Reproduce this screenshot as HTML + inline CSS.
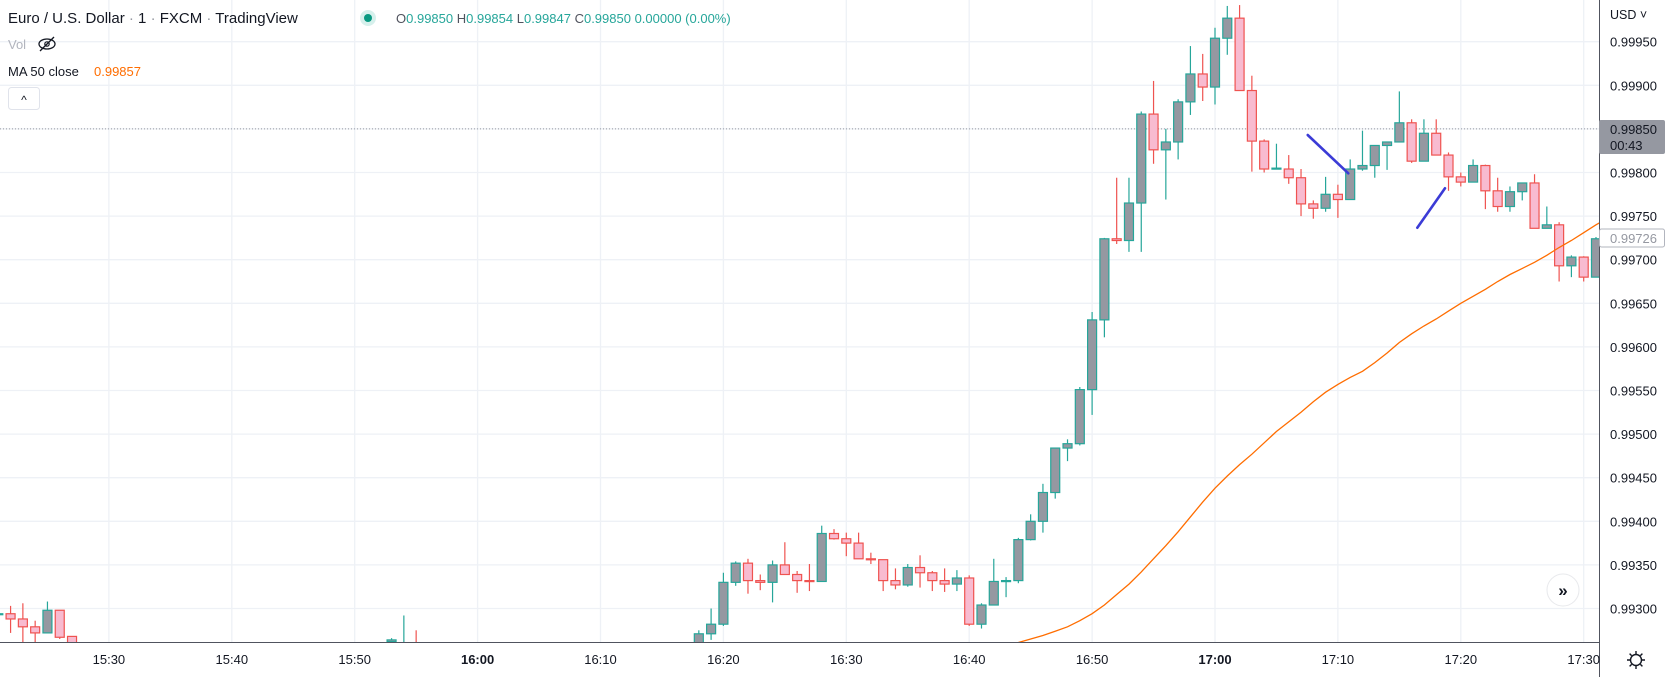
<!DOCTYPE html>
<html><head><meta charset="utf-8"><style>
html,body{margin:0;padding:0;background:#fff;width:1670px;height:677px;overflow:hidden}
svg{display:block;font-family:"Liberation Sans",sans-serif}
</style></head><body>
<svg id="chart" width="1670" height="677" viewBox="0 0 1670 677" xmlns="http://www.w3.org/2000/svg">
<g id="grid"></g>
<line x1="0" y1="128.9" x2="1599" y2="128.9" stroke="#9598a1" stroke-width="1" stroke-dasharray="1,2"/>
<g id="candles"></g>
<polyline id="ma" fill="none" stroke="#ff6d00" stroke-width="1.3"/>
<line x1="1307.7" y1="135" x2="1348.3" y2="173.3" stroke="#3b3bd6" stroke-width="2.6" stroke-linecap="round"/>
<line x1="1417.3" y1="227.7" x2="1445" y2="188.3" stroke="#3b3bd6" stroke-width="2.6" stroke-linecap="round"/>
<rect x="1599" y="0" width="71" height="677" fill="#fff"/>
<rect x="0" y="642" width="1599" height="35" fill="#fff"/>
<line x1="0" y1="642.5" x2="1599" y2="642.5" stroke="#50535e" stroke-width="1"/>
<line x1="1599.5" y1="0" x2="1599.5" y2="677" stroke="#50535e" stroke-width="1"/>
<g id="ylabels"></g>
<g id="xlabels"></g>
<text x="1610" y="19" font-size="12.5" fill="#131722">USD ˅</text>
<rect x="1599" y="120" width="66" height="34" rx="2" fill="#9598a1"/>
<text x="1610" y="134" font-size="13" fill="#131722">0.99850</text>
<text x="1610" y="150" font-size="13" fill="#131722">00:43</text>
<rect x="1599.5" y="229" width="65" height="18" rx="2" fill="#fff" stroke="#b2b5be"/>
<text x="1610" y="243" font-size="13" fill="#9598a1">0.99726</text>
<g>
<circle cx="1636" cy="660" r="5.5" fill="none" stroke="#131722" stroke-width="1.4"/>
<path d="M1636 651v3M1636 666v3M1627 660h3M1642 660h3M1629.6 653.6l2 2M1640.4 664.4l2 2M1629.6 666.4l2-2M1640.4 655.6l2-2" stroke="#131722" stroke-width="1.4"/>
</g>
<g>
<circle cx="1563" cy="590" r="16" fill="#fff" stroke="#e8e9ec"/>
<text x="1563" y="596" font-size="17" text-anchor="middle" fill="#131722" font-weight="bold">»</text>
</g>
<text x="8" y="23" font-size="15" fill="#131722">Euro / U.S. Dollar <tspan fill="#9598a1">·</tspan> 1 <tspan fill="#9598a1">·</tspan> FXCM <tspan fill="#9598a1">·</tspan> TradingView</text>
<circle cx="368" cy="18" r="8" fill="#d6f0ec"/>
<circle cx="368" cy="18" r="4" fill="#089981"/>
<text x="396" y="23" font-size="13" fill="#26a69a"><tspan fill="#50535e">O</tspan>0.99850 <tspan fill="#50535e">H</tspan>0.99854 <tspan fill="#50535e">L</tspan>0.99847 <tspan fill="#50535e">C</tspan>0.99850 0.00000 (0.00%)</text>
<text x="8" y="49" font-size="13" fill="#b2b5be">Vol</text>
<g>
<ellipse cx="47" cy="44" rx="8" ry="5" fill="none" stroke="#131722" stroke-width="1.3"/>
<circle cx="47" cy="44" r="2.2" fill="none" stroke="#131722" stroke-width="1.2"/>
<line x1="40" y1="51" x2="54" y2="37" stroke="#131722" stroke-width="1.3"/>
</g>
<text x="8" y="76" font-size="13" fill="#131722">MA 50 close</text>
<text x="94" y="76" font-size="13" fill="#ff6d00">0.99857</text>
<rect x="8.5" y="87.5" width="31" height="22" rx="3" fill="#fff" stroke="#e0e3eb"/>
<text x="24" y="104" font-size="12" text-anchor="middle" fill="#131722">^</text>
</svg>
<script>
const minutes=[-39,-38,-37,-36,-35,-34,-33,-7,-6,-5,18,19,20,21,22,23,24,25,26,27,28,29,30,31,32,33,34,35,36,37,38,39,40,41,42,43,44,45,46,47,48,49,50,51,52,53,54,55,56,57,58,59,60,61,62,63,64,65,66,67,68,69,70,71,72,73,74,75,76,77,78,79,80,81,82,83,84,85,86,87,88,89,90,91];
const opens=[99293,99294,99288,99279,99272,99298,99268,99262,99258,99260,99255,99271,99282,99330,99352,99332,99330,99350,99339,99332,99331,99386,99380,99375,99357,99356,99332,99327,99347,99341,99332,99328,99335,99282,99304,99331,99332,99379,99400,99433,99484,99489,99551,99631,99724,99722,99765,99867,99826,99835,99881,99913,99898,99954,99977,99894,99836,99804,99804,99794,99764,99759,99775,99769,99804,99808,99831,99835,99857,99813,99845,99820,99795,99789,99808,99779,99761,99778,99788,99736,99740,99693,99703,99680];
const highs=[99295,99303,99306,99286,99308,99298,99268,99266,99292,99275,99275,99300,99341,99354,99357,99339,99355,99376,99343,99351,99395,99391,99387,99387,99364,99356,99346,99351,99361,99343,99346,99344,99338,99306,99357,99336,99381,99408,99443,99484,99494,99554,99640,99725,99794,99794,99870,99905,99850,99884,99945,99936,99966,99991,99992,99911,99838,99833,99820,99804,99768,99795,99786,99815,99848,99831,99835,99893,99861,99861,99861,99823,99800,99815,99809,99794,99784,99788,99798,99761,99743,99705,99704,99726];
const lows=[99293,99272,99255,99255,99272,99265,99255,99255,99255,99255,99250,99264,99280,99326,99317,99321,99307,99339,99318,99320,99331,99379,99360,99357,99351,99320,99322,99325,99324,99320,99319,99320,99280,99277,99304,99313,99329,99378,99387,99426,99469,99487,99522,99611,99718,99709,99709,99810,99769,99815,99866,99882,99878,99935,99894,99801,99800,99804,99787,99750,99747,99755,99748,99769,99802,99794,99803,99835,99811,99813,99820,99779,99784,99789,99758,99755,99755,99768,99736,99736,99675,99680,99675,99680];
const closes=[99294,99288,99279,99272,99298,99267,99258,99264,99259,99258,99271,99282,99330,99352,99332,99330,99350,99339,99332,99331,99386,99380,99375,99357,99356,99332,99327,99347,99341,99332,99328,99335,99282,99304,99331,99332,99379,99400,99433,99484,99489,99551,99631,99724,99722,99765,99867,99826,99835,99881,99913,99898,99954,99977,99894,99836,99804,99805,99794,99764,99759,99775,99769,99804,99808,99831,99835,99857,99813,99845,99820,99795,99789,99808,99779,99761,99778,99788,99736,99740,99693,99703,99680,99724];
const maMinutes=[44,45,46,47,48,49,50,51,52,53,54,55,56,57,58,59,60,61,62,63,64,65,66,67,68,69,70,71,72,73,74,75,76,77,78,79,80,81,82,83,84,85,86,87,88,89,90,91,92];
const maValues=[99261,99265,99269,99274,99279,99286,99294,99304,99316,99328,99342,99357,99372,99388,99405,99422,99438,99452,99465,99477,99490,99503,99514,99525,99537,99548,99557,99565,99572,99582,99593,99605,99615,99624,99632,99641,99650,99658,99666,99675,99683,99690,99697,99705,99714,99722,99731,99740,99748];
const priceTicks=[99950,99900,99800,99750,99700,99650,99600,99550,99500,99450,99400,99350,99300];
const gridPrices=[99950,99900,99850,99800,99750,99700,99650,99600,99550,99500,99450,99400,99350,99300];
const timeTicks=[-30,-20,-10,0,10,20,30,40,50,60,70,80,90];
const timeLabels=["15:30","15:40","15:50","16:00","16:10","16:20","16:30","16:40","16:50","17:00","17:10","17:20","17:30"];

const NS="http://www.w3.org/2000/svg";
function xOf(m){return 477.6+m*12.29;}
function yOf(p){return 41.7+(99950-p)*0.872;}
function mk(tag,attrs,parent){const e=document.createElementNS(NS,tag);for(const k in attrs)e.setAttribute(k,attrs[k]);parent.appendChild(e);return e;}

const grid=document.getElementById('grid');
gridPrices.forEach(p=>{
  const l=mk('line',{x1:0,x2:1599,y1:yOf(p),y2:yOf(p),stroke:'#eef1f6','stroke-width':1.3},grid);
  
  
});
timeTicks.forEach(m=>{
  const l=mk('line',{x1:xOf(m),x2:xOf(m),y1:0,y2:642,stroke:'#eef1f6','stroke-width':1.3},grid);
  
  
});

const cg=document.getElementById('candles');
for(let i=0;i<minutes.length;i++){
  const x=xOf(minutes[i]);const o=opens[i],c=closes[i],h=highs[i],lo=lows[i];
  const up=c>=o;
  const stroke=up?'#26a69a':'#ef5350';
  const fill=up?'#9598a1':'#f8bbd0';
  const g=mk('g',{},cg);
  
  
  mk('line',{x1:x,x2:x,y1:yOf(h),y2:yOf(lo),stroke:stroke,'stroke-width':1.2},g);
  const top=yOf(Math.max(o,c)),bot=yOf(Math.min(o,c));
  mk('rect',{x:x-4.5,y:top,width:9,height:Math.max(1,bot-top),fill:fill,stroke:stroke,'stroke-width':1.2},g);
}

const ma=document.getElementById('ma');
ma.setAttribute('points',maMinutes.map((m,i)=>xOf(m).toFixed(1)+','+yOf(maValues[i]).toFixed(1)).join(' '));

const yl=document.getElementById('ylabels');
priceTicks.forEach(p=>{
  const t=mk('text',{x:1610,y:yOf(p)+5,'font-size':13,fill:'#131722'},yl);
  t.textContent=(p/100000).toFixed(5);
  
  
});
const xl=document.getElementById('xlabels');
timeTicks.forEach((m,i)=>{
  const b=(timeLabels[i]==='16:00'||timeLabels[i]==='17:00');
  const t=mk('text',{x:xOf(m),y:664,'font-size':13,fill:'#131722','text-anchor':'middle','font-weight':b?'bold':'normal'},xl);
  t.textContent=timeLabels[i];
  
  
});
// clip candles/ma beyond plot
const svg=document.getElementById('chart');
const defs=mk('defs',{},svg);
const cp=mk('clipPath',{id:'plotclip'},defs);
mk('rect',{x:0,y:0,width:1599,height:642},cp);
cg.setAttribute('clip-path','url(#plotclip)');
ma.setAttribute('clip-path','url(#plotclip)');
</script>
</body></html>
